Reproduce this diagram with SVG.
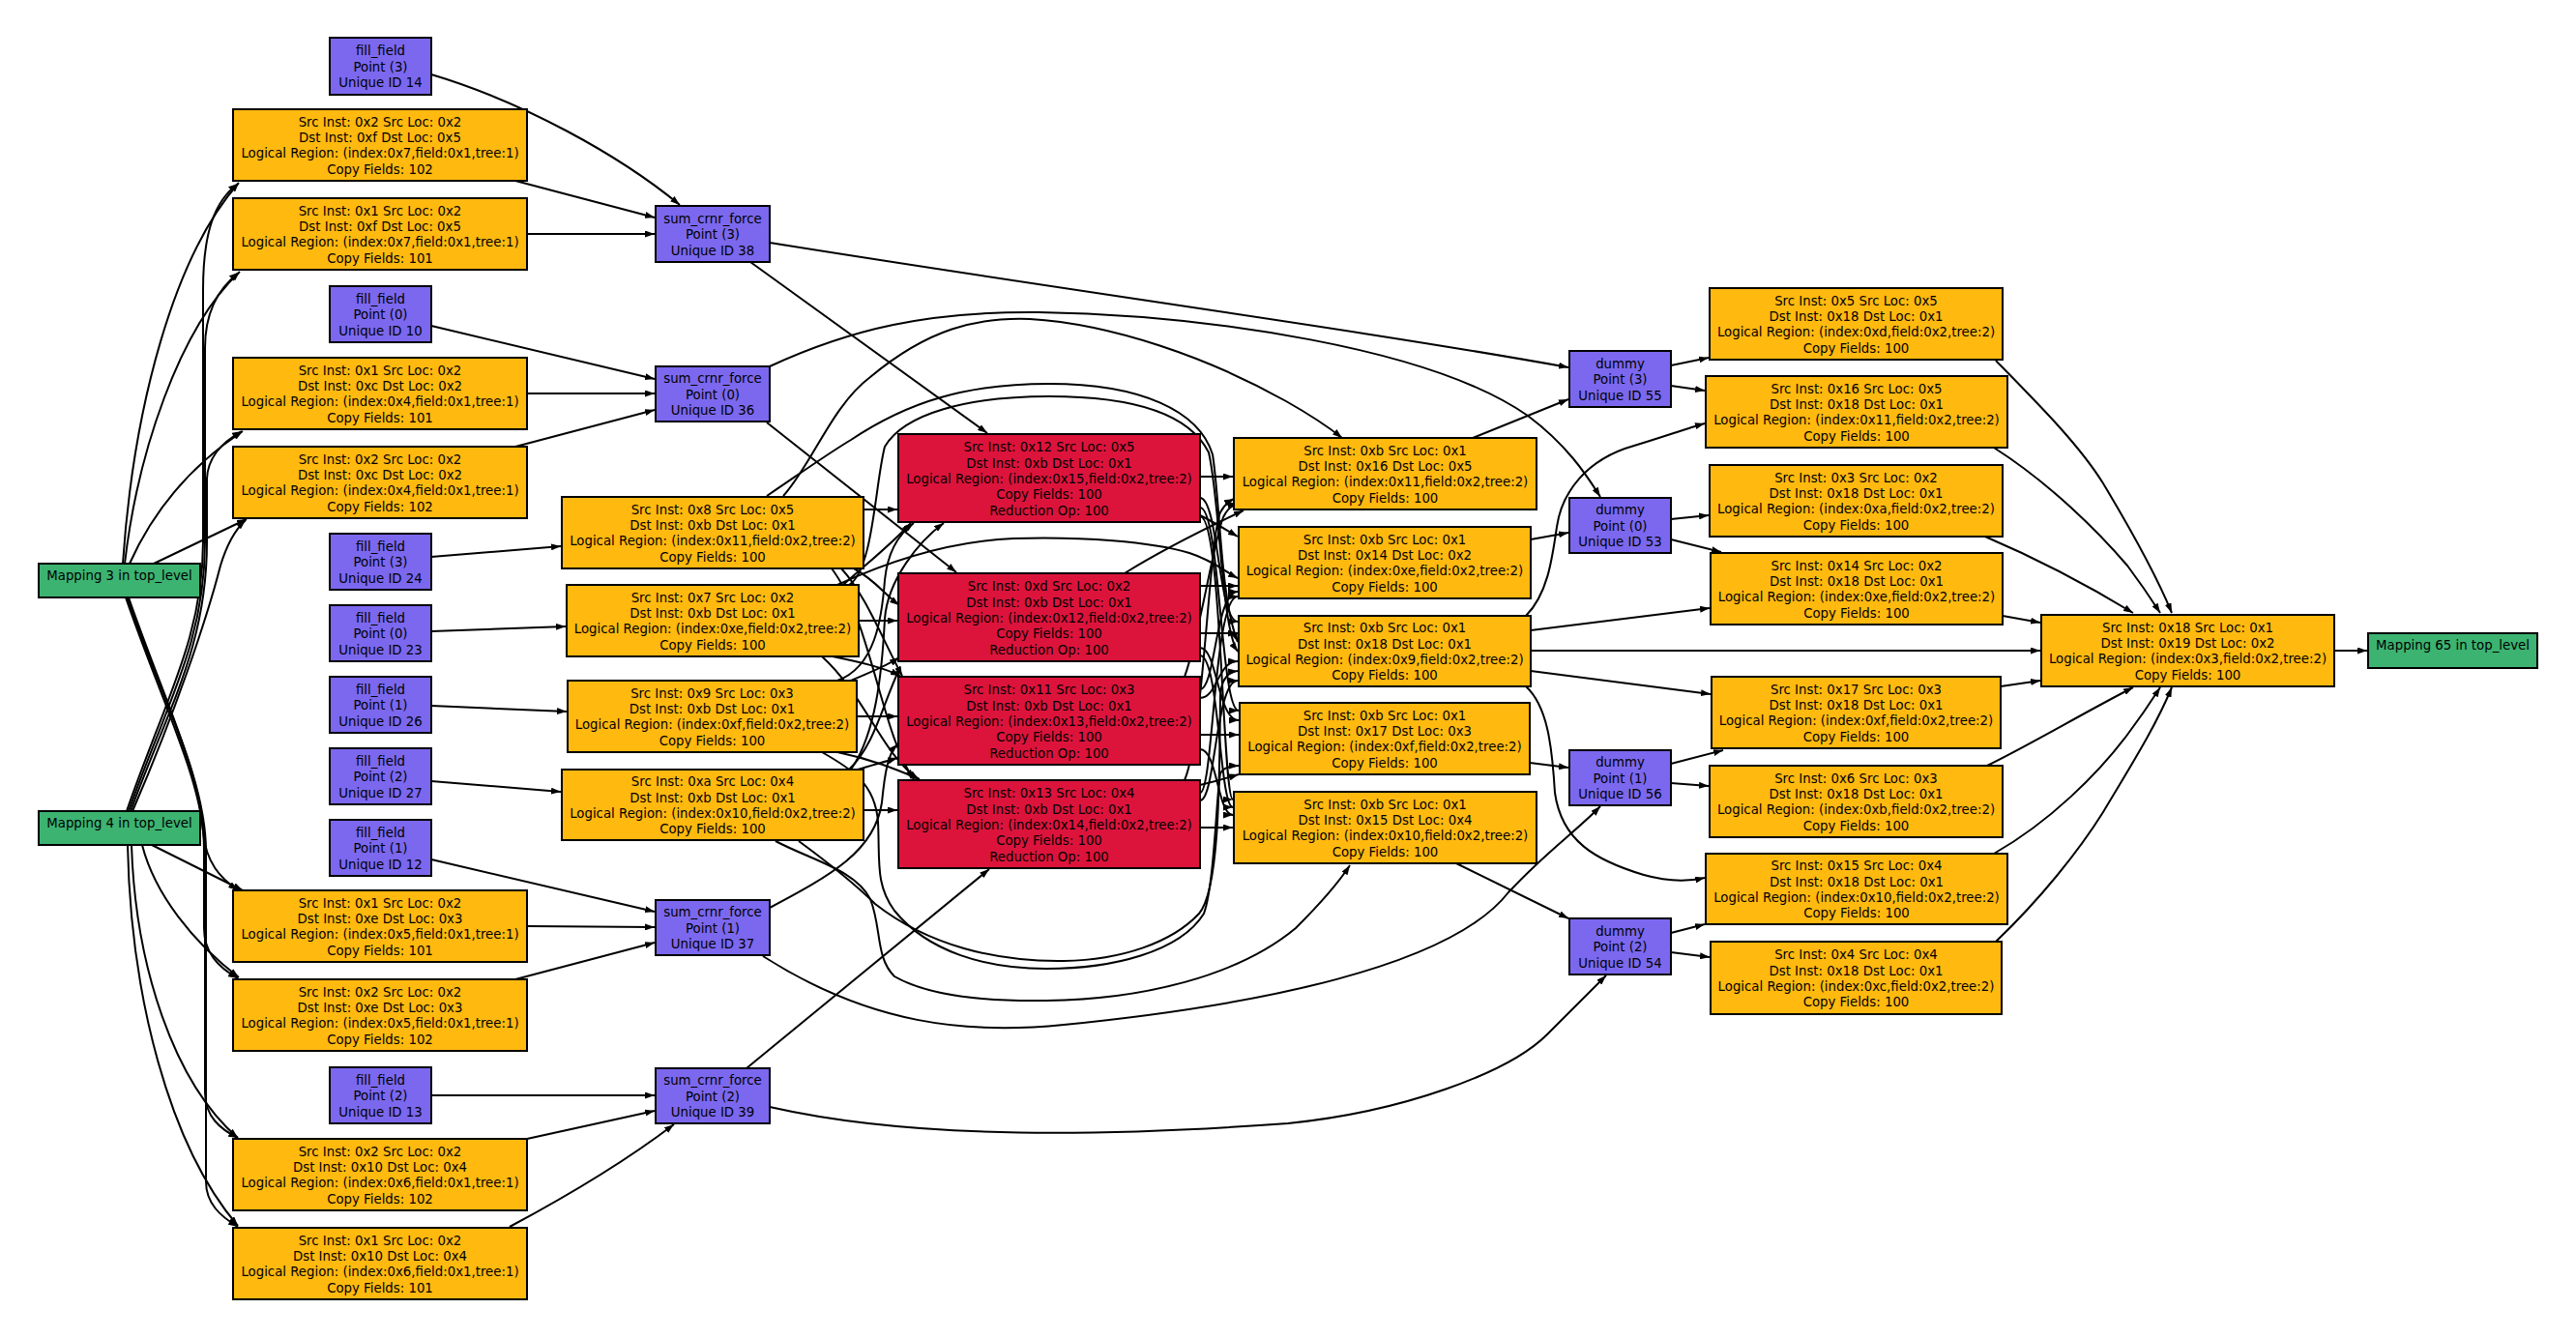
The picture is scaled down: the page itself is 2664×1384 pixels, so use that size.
<svg xmlns="http://www.w3.org/2000/svg" width="2664" height="1384" viewBox="0 0 2664 1384">
<style>
g rect{stroke:#000;stroke-width:2}
.o{fill:#FFB90F}.p{fill:#7B68EE}.r{fill:#DC143C}.g{fill:#3CB371}
text{font-family:"DejaVu Sans","Liberation Sans",sans-serif;font-size:13.3px;text-anchor:middle;fill:#000}
#edges path{fill:none;stroke:#000;stroke-width:2;marker-end:url(#ah)}
</style>
<defs>
<marker id="ah" viewBox="0 0 10 7" refX="10" refY="3.5" markerWidth="10" markerHeight="7" markerUnits="userSpaceOnUse" orient="auto"><path d="M0,0 L10,3.5 L0,7 z" fill="#000"/></marker>
</defs>
<rect x="0" y="0" width="2664" height="1384" fill="#fff"/>
<g id="edges">
<path d="M127,583 C138,420 180,265 247,189"/>
<path d="M129,583 C142,470 185,340 248,281"/>
<path d="M134,583 C160,525 200,480 251,446"/>
<path d="M159,583 L255,537"/>
<path d="M131,839 C170,725 210,660 210,560 L210,300 C210,240 222,208 246,190"/>
<path d="M133,839 C172,728 212,665 212,560 L212,360 C212,322 226,298 247,282"/>
<path d="M135,839 C175,730 214,668 214,560 L214,495 C215,472 232,456 250,446"/>
<path d="M137,839 C180,740 214,640 228,585 C235,562 243,548 254,538"/>
<path d="M130,618 C165,720 205,800 210,860 C213,893 228,908 246,921"/>
<path d="M131,618 C168,725 211,800 211,880 L211,960 C211,985 225,1000 246,1012"/>
<path d="M132,618 C170,728 212,805 212,880 L212,1130 C212,1155 228,1168 246,1177"/>
<path d="M133,618 C172,730 213,810 213,880 L213,1222 C213,1245 228,1258 246,1269"/>
<path d="M157,874 L251,921"/>
<path d="M147,874 C160,925 200,975 247,1011"/>
<path d="M136,874 C140,1000 180,1120 246,1177"/>
<path d="M132,874 C135,1030 175,1185 246,1268"/>
<path d="M446,77 C540,105 640,160 703,212"/>
<path d="M533,187 L677,225"/>
<path d="M545,242 L677,242"/>
<path d="M446,337 L677,392"/>
<path d="M545,407 L677,407"/>
<path d="M533,462 L677,424"/>
<path d="M446,576 L580,565"/>
<path d="M446,653 L585,648"/>
<path d="M446,730 L586,736"/>
<path d="M446,808 L580,819"/>
<path d="M446,889 L677,943"/>
<path d="M545,958 L677,959"/>
<path d="M533,1013 L677,975"/>
<path d="M446,1133 L677,1133"/>
<path d="M545,1178 L677,1149"/>
<path d="M527,1269 C600,1230 655,1195 697,1163"/>
<path d="M796,251 C1100,300 1400,340 1622,380"/>
<path d="M776,271 L1021,448"/>
<path d="M796,379 C880,340 960,322 1074,323 C1250,326 1480,360 1580,430 C1620,460 1640,490 1655,514"/>
<path d="M793,437 L989,592"/>
<path d="M796,939 C860,905 905,880 912,830 C915,800 918,780 928,770"/>
<path d="M789,989 C900,1060 1000,1070 1100,1060 C1300,1040 1500,1000 1560,923 C1600,880 1630,860 1655,834"/>
<path d="M772,1105 L1023,899"/>
<path d="M796,1145 C950,1180 1150,1175 1332,1162 C1450,1150 1560,1110 1600,1070 C1630,1040 1650,1020 1661,1009"/>
<path d="M893,527 L928,527"/>
<path d="M883,588 C905,600 915,615 930,626"/>
<path d="M870,588 C895,615 912,660 933,699"/>
<path d="M860,588 C900,640 912,760 945,806"/>
<path d="M872,605 C900,580 925,560 942,541"/>
<path d="M888,642 L928,642"/>
<path d="M861,679 C890,685 912,690 931,699"/>
<path d="M850,679 C895,720 912,780 950,806"/>
<path d="M866,704 C905,690 912,640 915,600 C918,570 930,552 945,541"/>
<path d="M880,704 C900,695 915,690 930,680"/>
<path d="M886,741 L928,741"/>
<path d="M866,778 C900,785 925,795 951,806"/>
<path d="M880,796 C905,760 912,700 915,640 C918,600 950,560 976,541"/>
<path d="M878,796 C905,770 912,730 931,690"/>
<path d="M887,796 C900,792 915,788 928,784"/>
<path d="M893,838 L928,838"/>
<path d="M810,513 C840,480 860,420 900,390 C960,340 1010,328 1065,330 C1150,335 1250,370 1330,415 C1360,432 1378,445 1388,453"/>
<path d="M793,513 C830,488 855,470 880,455 C940,415 1000,397 1085,397 C1180,397 1240,425 1254,470 C1262,520 1262,620 1280,664"/>
<path d="M878,605 C903,590 905,500 915,462 C935,428 1000,410 1085,410 C1180,410 1232,432 1250,468 C1262,520 1263,650 1280,674"/>
<path d="M866,605 C920,580 980,560 1048,557 C1120,555 1190,560 1230,572 C1255,580 1268,592 1280,598"/>
<path d="M802,870 C840,890 885,900 900,930 C912,960 905,990 925,1010 C960,1030 1020,1036 1082,1035 C1180,1034 1280,1010 1340,960 C1365,935 1385,912 1396,895"/>
<path d="M826,870 C860,895 885,915 905,935 C960,978 1030,995 1100,994 C1160,993 1212,975 1240,945 C1262,920 1261,800 1262,720 C1263,702 1270,695 1280,694"/>
<path d="M850,778 C880,795 905,810 908,850 C910,890 905,915 925,942 C960,985 1020,1002 1082,1002 C1150,1002 1220,985 1245,945 C1256,915 1258,820 1262,800 C1265,794 1272,792 1281,792"/>
<path d="M1241,493 L1275,493"/>
<path d="M1241,533 C1255,540 1268,548 1280,555"/>
<path d="M1241,515 C1260,515 1260,643 1280,643"/>
<path d="M1241,525 C1262,525 1262,735 1281,735"/>
<path d="M1241,534 C1264,534 1264,827 1275,827"/>
<path d="M1163,593 C1200,570 1250,545 1286,528"/>
<path d="M1241,606 L1280,606"/>
<path d="M1241,655 L1280,655"/>
<path d="M1241,670 C1259,670 1259,745 1281,745"/>
<path d="M1241,678 C1261,678 1261,835 1275,835"/>
<path d="M1225,700 C1240,660 1255,560 1265,535 C1270,525 1275,522 1280,522"/>
<path d="M1241,713 C1257,713 1257,612 1280,612"/>
<path d="M1241,722 C1259,722 1259,684 1280,684"/>
<path d="M1241,760 L1281,760"/>
<path d="M1241,775 C1259,775 1259,843 1275,843"/>
<path d="M1225,807 C1245,760 1250,560 1262,530 C1266,522 1272,518 1276,516"/>
<path d="M1241,820 C1255,820 1255,617 1280,617"/>
<path d="M1241,828 C1257,828 1257,704 1280,704"/>
<path d="M1241,812 C1258,808 1268,805 1281,801"/>
<path d="M1241,856 L1275,856"/>
<path d="M1523,453 L1622,413"/>
<path d="M1583,558 L1622,551"/>
<path d="M1582,789 L1622,794"/>
<path d="M1506,893 L1622,950"/>
<path d="M1578,637 C1600,615 1605,580 1610,545 C1615,510 1640,475 1690,461 C1720,452 1745,443 1763,438"/>
<path d="M1583,652 L1768,629"/>
<path d="M1583,673 L2110,673"/>
<path d="M1583,694 L1769,718"/>
<path d="M1578,710 C1600,730 1605,770 1608,820 C1615,870 1650,890 1700,905 C1725,912 1745,912 1763,908"/>
<path d="M1728,378 L1767,370"/>
<path d="M1728,399 L1763,404"/>
<path d="M1728,537 L1767,533"/>
<path d="M1728,558 L1780,571"/>
<path d="M1728,790 L1782,776"/>
<path d="M1728,810 L1767,813"/>
<path d="M1728,965 L1763,956"/>
<path d="M1728,985 L1768,990"/>
<path d="M2064,373 C2110,420 2150,460 2175,500 C2205,550 2230,595 2246,634"/>
<path d="M2062,463 C2120,500 2170,550 2200,585 C2215,605 2225,620 2234,634"/>
<path d="M2053,555 C2100,575 2150,600 2206,634"/>
<path d="M2071,637 L2110,644"/>
<path d="M2069,710 L2110,704"/>
<path d="M2055,792 C2100,770 2150,740 2206,711"/>
<path d="M2062,883 C2120,850 2170,800 2200,760 C2215,740 2225,725 2234,711"/>
<path d="M2064,974 C2110,930 2150,880 2175,840 C2205,790 2230,750 2246,711"/>
<path d="M2414,673 L2448,673"/>
</g>
<g id="n_M3"><rect class="g" x="40" y="583" width="167" height="35"/><text x="123.5" y="599.5">Mapping 3 in top_level</text></g>
<g id="n_M4"><rect class="g" x="40" y="839" width="167" height="35"/><text x="123.5" y="855.5">Mapping 4 in top_level</text></g>
<g id="n_FF14"><rect class="p" x="341" y="39" width="105" height="59"/><text><tspan x="393.5" y="57">fill_field</tspan><tspan x="393.5" y="73.5">Point (3)</tspan><tspan x="393.5" y="90">Unique ID 14</tspan></text></g>
<g id="n_Oa"><rect class="o" x="241" y="113" width="304" height="74"/><text><tspan x="393" y="130.5">Src Inst: 0x2 Src Loc: 0x2</tspan><tspan x="393" y="147">Dst Inst: 0xf Dst Loc: 0x5</tspan><tspan x="393" y="163">Logical Region: (index:0x7,field:0x1,tree:1)</tspan><tspan x="393" y="179.5">Copy Fields: 102</tspan></text></g>
<g id="n_Ob"><rect class="o" x="241" y="205" width="304" height="74"/><text><tspan x="393" y="222.5">Src Inst: 0x1 Src Loc: 0x2</tspan><tspan x="393" y="239">Dst Inst: 0xf Dst Loc: 0x5</tspan><tspan x="393" y="255">Logical Region: (index:0x7,field:0x1,tree:1)</tspan><tspan x="393" y="271.5">Copy Fields: 101</tspan></text></g>
<g id="n_FF10"><rect class="p" x="341" y="296" width="105" height="58"/><text><tspan x="393.5" y="313.5">fill_field</tspan><tspan x="393.5" y="330">Point (0)</tspan><tspan x="393.5" y="346.5">Unique ID 10</tspan></text></g>
<g id="n_Oc"><rect class="o" x="241" y="370" width="304" height="74"/><text><tspan x="393" y="387.5">Src Inst: 0x1 Src Loc: 0x2</tspan><tspan x="393" y="404">Dst Inst: 0xc Dst Loc: 0x2</tspan><tspan x="393" y="420">Logical Region: (index:0x4,field:0x1,tree:1)</tspan><tspan x="393" y="436.5">Copy Fields: 101</tspan></text></g>
<g id="n_Od"><rect class="o" x="241" y="462" width="304" height="74"/><text><tspan x="393" y="479.5">Src Inst: 0x2 Src Loc: 0x2</tspan><tspan x="393" y="496">Dst Inst: 0xc Dst Loc: 0x2</tspan><tspan x="393" y="512">Logical Region: (index:0x4,field:0x1,tree:1)</tspan><tspan x="393" y="528.5">Copy Fields: 102</tspan></text></g>
<g id="n_FF24"><rect class="p" x="341" y="552" width="105" height="58"/><text><tspan x="393.5" y="569.5">fill_field</tspan><tspan x="393.5" y="586">Point (3)</tspan><tspan x="393.5" y="602.5">Unique ID 24</tspan></text></g>
<g id="n_FF23"><rect class="p" x="341" y="626" width="105" height="58"/><text><tspan x="393.5" y="643.5">fill_field</tspan><tspan x="393.5" y="660">Point (0)</tspan><tspan x="393.5" y="676.5">Unique ID 23</tspan></text></g>
<g id="n_FF26"><rect class="p" x="341" y="700" width="105" height="58"/><text><tspan x="393.5" y="717.5">fill_field</tspan><tspan x="393.5" y="734">Point (1)</tspan><tspan x="393.5" y="750.5">Unique ID 26</tspan></text></g>
<g id="n_FF27"><rect class="p" x="341" y="774" width="105" height="58"/><text><tspan x="393.5" y="791.5">fill_field</tspan><tspan x="393.5" y="808">Point (2)</tspan><tspan x="393.5" y="824.5">Unique ID 27</tspan></text></g>
<g id="n_FF12"><rect class="p" x="341" y="848" width="105" height="58"/><text><tspan x="393.5" y="865.5">fill_field</tspan><tspan x="393.5" y="882">Point (1)</tspan><tspan x="393.5" y="898.5">Unique ID 12</tspan></text></g>
<g id="n_Oe"><rect class="o" x="241" y="921" width="304" height="74"/><text><tspan x="393" y="938.5">Src Inst: 0x1 Src Loc: 0x2</tspan><tspan x="393" y="955">Dst Inst: 0xe Dst Loc: 0x3</tspan><tspan x="393" y="971">Logical Region: (index:0x5,field:0x1,tree:1)</tspan><tspan x="393" y="987.5">Copy Fields: 101</tspan></text></g>
<g id="n_Of"><rect class="o" x="241" y="1013" width="304" height="74"/><text><tspan x="393" y="1030.5">Src Inst: 0x2 Src Loc: 0x2</tspan><tspan x="393" y="1047">Dst Inst: 0xe Dst Loc: 0x3</tspan><tspan x="393" y="1063">Logical Region: (index:0x5,field:0x1,tree:1)</tspan><tspan x="393" y="1079.5">Copy Fields: 102</tspan></text></g>
<g id="n_FF13"><rect class="p" x="341" y="1104" width="105" height="58"/><text><tspan x="393.5" y="1121.5">fill_field</tspan><tspan x="393.5" y="1138">Point (2)</tspan><tspan x="393.5" y="1154.5">Unique ID 13</tspan></text></g>
<g id="n_Og"><rect class="o" x="241" y="1178" width="304" height="74"/><text><tspan x="393" y="1195.5">Src Inst: 0x2 Src Loc: 0x2</tspan><tspan x="393" y="1212">Dst Inst: 0x10 Dst Loc: 0x4</tspan><tspan x="393" y="1228">Logical Region: (index:0x6,field:0x1,tree:1)</tspan><tspan x="393" y="1244.5">Copy Fields: 102</tspan></text></g>
<g id="n_Oh"><rect class="o" x="241" y="1270" width="304" height="74"/><text><tspan x="393" y="1287.5">Src Inst: 0x1 Src Loc: 0x2</tspan><tspan x="393" y="1304">Dst Inst: 0x10 Dst Loc: 0x4</tspan><tspan x="393" y="1320">Logical Region: (index:0x6,field:0x1,tree:1)</tspan><tspan x="393" y="1336.5">Copy Fields: 101</tspan></text></g>
<g id="n_S38"><rect class="p" x="678" y="213" width="118" height="58"/><text><tspan x="737" y="230.5">sum_crnr_force</tspan><tspan x="737" y="247">Point (3)</tspan><tspan x="737" y="263.5">Unique ID 38</tspan></text></g>
<g id="n_S36"><rect class="p" x="678" y="379" width="118" height="57"/><text><tspan x="737" y="396">sum_crnr_force</tspan><tspan x="737" y="412.5">Point (0)</tspan><tspan x="737" y="429">Unique ID 36</tspan></text></g>
<g id="n_S37"><rect class="p" x="678" y="931" width="118" height="57"/><text><tspan x="737" y="948">sum_crnr_force</tspan><tspan x="737" y="964.5">Point (1)</tspan><tspan x="737" y="981">Unique ID 37</tspan></text></g>
<g id="n_S39"><rect class="p" x="678" y="1105" width="118" height="57"/><text><tspan x="737" y="1122">sum_crnr_force</tspan><tspan x="737" y="1138.5">Point (2)</tspan><tspan x="737" y="1155">Unique ID 39</tspan></text></g>
<g id="n_O8"><rect class="o" x="581" y="514" width="312" height="74"/><text><tspan x="737" y="531.5">Src Inst: 0x8 Src Loc: 0x5</tspan><tspan x="737" y="548">Dst Inst: 0xb Dst Loc: 0x1</tspan><tspan x="737" y="564">Logical Region: (index:0x11,field:0x2,tree:2)</tspan><tspan x="737" y="580.5">Copy Fields: 100</tspan></text></g>
<g id="n_O7"><rect class="o" x="586" y="605" width="302" height="74"/><text><tspan x="737" y="622.5">Src Inst: 0x7 Src Loc: 0x2</tspan><tspan x="737" y="639">Dst Inst: 0xb Dst Loc: 0x1</tspan><tspan x="737" y="655">Logical Region: (index:0xe,field:0x2,tree:2)</tspan><tspan x="737" y="671.5">Copy Fields: 100</tspan></text></g>
<g id="n_O9"><rect class="o" x="587" y="704" width="299" height="74"/><text><tspan x="736.5" y="721.5">Src Inst: 0x9 Src Loc: 0x3</tspan><tspan x="736.5" y="738">Dst Inst: 0xb Dst Loc: 0x1</tspan><tspan x="736.5" y="754">Logical Region: (index:0xf,field:0x2,tree:2)</tspan><tspan x="736.5" y="770.5">Copy Fields: 100</tspan></text></g>
<g id="n_OA10"><rect class="o" x="581" y="796" width="312" height="73"/><text><tspan x="737" y="813">Src Inst: 0xa Src Loc: 0x4</tspan><tspan x="737" y="829.5">Dst Inst: 0xb Dst Loc: 0x1</tspan><tspan x="737" y="845.5">Logical Region: (index:0x10,field:0x2,tree:2)</tspan><tspan x="737" y="862">Copy Fields: 100</tspan></text></g>
<g id="n_R12"><rect class="r" x="929" y="449" width="312" height="91"/><text><tspan x="1085" y="467">Src Inst: 0x12 Src Loc: 0x5</tspan><tspan x="1085" y="483.5">Dst Inst: 0xb Dst Loc: 0x1</tspan><tspan x="1085" y="499.5">Logical Region: (index:0x15,field:0x2,tree:2)</tspan><tspan x="1085" y="516">Copy Fields: 100</tspan><tspan x="1085" y="532.5">Reduction Op: 100</tspan></text></g>
<g id="n_Rd"><rect class="r" x="929" y="593" width="312" height="91"/><text><tspan x="1085" y="611">Src Inst: 0xd Src Loc: 0x2</tspan><tspan x="1085" y="627.5">Dst Inst: 0xb Dst Loc: 0x1</tspan><tspan x="1085" y="643.5">Logical Region: (index:0x12,field:0x2,tree:2)</tspan><tspan x="1085" y="660">Copy Fields: 100</tspan><tspan x="1085" y="676.5">Reduction Op: 100</tspan></text></g>
<g id="n_R11"><rect class="r" x="929" y="700" width="312" height="91"/><text><tspan x="1085" y="718">Src Inst: 0x11 Src Loc: 0x3</tspan><tspan x="1085" y="734.5">Dst Inst: 0xb Dst Loc: 0x1</tspan><tspan x="1085" y="750.5">Logical Region: (index:0x13,field:0x2,tree:2)</tspan><tspan x="1085" y="767">Copy Fields: 100</tspan><tspan x="1085" y="783.5">Reduction Op: 100</tspan></text></g>
<g id="n_R13"><rect class="r" x="929" y="807" width="312" height="91"/><text><tspan x="1085" y="825">Src Inst: 0x13 Src Loc: 0x4</tspan><tspan x="1085" y="841.5">Dst Inst: 0xb Dst Loc: 0x1</tspan><tspan x="1085" y="857.5">Logical Region: (index:0x14,field:0x2,tree:2)</tspan><tspan x="1085" y="874">Copy Fields: 100</tspan><tspan x="1085" y="890.5">Reduction Op: 100</tspan></text></g>
<g id="n_A"><rect class="o" x="1276" y="453" width="313" height="74"/><text><tspan x="1432.5" y="470.5">Src Inst: 0xb Src Loc: 0x1</tspan><tspan x="1432.5" y="487">Dst Inst: 0x16 Dst Loc: 0x5</tspan><tspan x="1432.5" y="503">Logical Region: (index:0x11,field:0x2,tree:2)</tspan><tspan x="1432.5" y="519.5">Copy Fields: 100</tspan></text></g>
<g id="n_B"><rect class="o" x="1281" y="545" width="302" height="74"/><text><tspan x="1432" y="562.5">Src Inst: 0xb Src Loc: 0x1</tspan><tspan x="1432" y="579">Dst Inst: 0x14 Dst Loc: 0x2</tspan><tspan x="1432" y="595">Logical Region: (index:0xe,field:0x2,tree:2)</tspan><tspan x="1432" y="611.5">Copy Fields: 100</tspan></text></g>
<g id="n_C"><rect class="o" x="1281" y="637" width="302" height="73"/><text><tspan x="1432" y="654">Src Inst: 0xb Src Loc: 0x1</tspan><tspan x="1432" y="670.5">Dst Inst: 0x18 Dst Loc: 0x1</tspan><tspan x="1432" y="686.5">Logical Region: (index:0x9,field:0x2,tree:2)</tspan><tspan x="1432" y="703">Copy Fields: 100</tspan></text></g>
<g id="n_D"><rect class="o" x="1282" y="727" width="300" height="74"/><text><tspan x="1432" y="744.5">Src Inst: 0xb Src Loc: 0x1</tspan><tspan x="1432" y="761">Dst Inst: 0x17 Dst Loc: 0x3</tspan><tspan x="1432" y="777">Logical Region: (index:0xf,field:0x2,tree:2)</tspan><tspan x="1432" y="793.5">Copy Fields: 100</tspan></text></g>
<g id="n_E"><rect class="o" x="1276" y="819" width="313" height="74"/><text><tspan x="1432.5" y="836.5">Src Inst: 0xb Src Loc: 0x1</tspan><tspan x="1432.5" y="853">Dst Inst: 0x15 Dst Loc: 0x4</tspan><tspan x="1432.5" y="869">Logical Region: (index:0x10,field:0x2,tree:2)</tspan><tspan x="1432.5" y="885.5">Copy Fields: 100</tspan></text></g>
<g id="n_D55"><rect class="p" x="1623" y="363" width="105" height="58"/><text><tspan x="1675.5" y="380.5">dummy</tspan><tspan x="1675.5" y="397">Point (3)</tspan><tspan x="1675.5" y="413.5">Unique ID 55</tspan></text></g>
<g id="n_D53"><rect class="p" x="1623" y="515" width="105" height="57"/><text><tspan x="1675.5" y="532">dummy</tspan><tspan x="1675.5" y="548.5">Point (0)</tspan><tspan x="1675.5" y="565">Unique ID 53</tspan></text></g>
<g id="n_D56"><rect class="p" x="1623" y="776" width="105" height="57"/><text><tspan x="1675.5" y="793">dummy</tspan><tspan x="1675.5" y="809.5">Point (1)</tspan><tspan x="1675.5" y="826">Unique ID 56</tspan></text></g>
<g id="n_D54"><rect class="p" x="1623" y="950" width="105" height="58"/><text><tspan x="1675.5" y="967.5">dummy</tspan><tspan x="1675.5" y="984">Point (2)</tspan><tspan x="1675.5" y="1000.5">Unique ID 54</tspan></text></g>
<g id="n_P5"><rect class="o" x="1768" y="298" width="303" height="74"/><text><tspan x="1919.5" y="315.5">Src Inst: 0x5 Src Loc: 0x5</tspan><tspan x="1919.5" y="332">Dst Inst: 0x18 Dst Loc: 0x1</tspan><tspan x="1919.5" y="348">Logical Region: (index:0xd,field:0x2,tree:2)</tspan><tspan x="1919.5" y="364.5">Copy Fields: 100</tspan></text></g>
<g id="n_P16"><rect class="o" x="1764" y="389" width="312" height="74"/><text><tspan x="1920" y="406.5">Src Inst: 0x16 Src Loc: 0x5</tspan><tspan x="1920" y="423">Dst Inst: 0x18 Dst Loc: 0x1</tspan><tspan x="1920" y="439">Logical Region: (index:0x11,field:0x2,tree:2)</tspan><tspan x="1920" y="455.5">Copy Fields: 100</tspan></text></g>
<g id="n_P3"><rect class="o" x="1768" y="481" width="303" height="74"/><text><tspan x="1919.5" y="498.5">Src Inst: 0x3 Src Loc: 0x2</tspan><tspan x="1919.5" y="515">Dst Inst: 0x18 Dst Loc: 0x1</tspan><tspan x="1919.5" y="531">Logical Region: (index:0xa,field:0x2,tree:2)</tspan><tspan x="1919.5" y="547.5">Copy Fields: 100</tspan></text></g>
<g id="n_P14"><rect class="o" x="1769" y="572" width="302" height="74"/><text><tspan x="1920" y="589.5">Src Inst: 0x14 Src Loc: 0x2</tspan><tspan x="1920" y="606">Dst Inst: 0x18 Dst Loc: 0x1</tspan><tspan x="1920" y="622">Logical Region: (index:0xe,field:0x2,tree:2)</tspan><tspan x="1920" y="638.5">Copy Fields: 100</tspan></text></g>
<g id="n_P17"><rect class="o" x="1770" y="700" width="299" height="74"/><text><tspan x="1919.5" y="717.5">Src Inst: 0x17 Src Loc: 0x3</tspan><tspan x="1919.5" y="734">Dst Inst: 0x18 Dst Loc: 0x1</tspan><tspan x="1919.5" y="750">Logical Region: (index:0xf,field:0x2,tree:2)</tspan><tspan x="1919.5" y="766.5">Copy Fields: 100</tspan></text></g>
<g id="n_P6"><rect class="o" x="1768" y="792" width="303" height="74"/><text><tspan x="1919.5" y="809.5">Src Inst: 0x6 Src Loc: 0x3</tspan><tspan x="1919.5" y="826">Dst Inst: 0x18 Dst Loc: 0x1</tspan><tspan x="1919.5" y="842">Logical Region: (index:0xb,field:0x2,tree:2)</tspan><tspan x="1919.5" y="858.5">Copy Fields: 100</tspan></text></g>
<g id="n_P15"><rect class="o" x="1764" y="883" width="312" height="73"/><text><tspan x="1920" y="900">Src Inst: 0x15 Src Loc: 0x4</tspan><tspan x="1920" y="916.5">Dst Inst: 0x18 Dst Loc: 0x1</tspan><tspan x="1920" y="932.5">Logical Region: (index:0x10,field:0x2,tree:2)</tspan><tspan x="1920" y="949">Copy Fields: 100</tspan></text></g>
<g id="n_P4"><rect class="o" x="1769" y="974" width="301" height="75"/><text><tspan x="1919.5" y="992">Src Inst: 0x4 Src Loc: 0x4</tspan><tspan x="1919.5" y="1008.5">Dst Inst: 0x18 Dst Loc: 0x1</tspan><tspan x="1919.5" y="1024.5">Logical Region: (index:0xc,field:0x2,tree:2)</tspan><tspan x="1919.5" y="1041">Copy Fields: 100</tspan></text></g>
<g id="n_F"><rect class="o" x="2111" y="636" width="303" height="74"/><text><tspan x="2262.5" y="653.5">Src Inst: 0x18 Src Loc: 0x1</tspan><tspan x="2262.5" y="670">Dst Inst: 0x19 Dst Loc: 0x2</tspan><tspan x="2262.5" y="686">Logical Region: (index:0x3,field:0x2,tree:2)</tspan><tspan x="2262.5" y="702.5">Copy Fields: 100</tspan></text></g>
<g id="n_M65"><rect class="g" x="2449" y="655" width="175" height="36"/><text x="2536.5" y="672">Mapping 65 in top_level</text></g>
</svg>
